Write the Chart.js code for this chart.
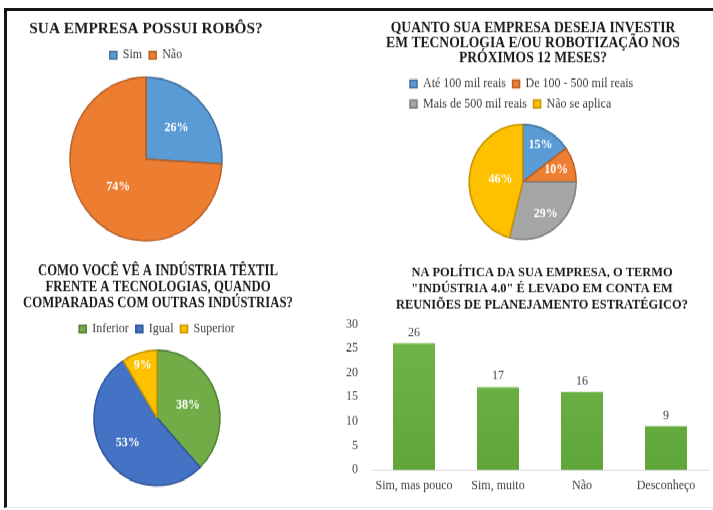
<!DOCTYPE html>
<html lang="pt-BR">
<head>
<meta charset="utf-8">
<title>Indústria têxtil: robôs e tecnologia</title>
<script src="https://cdn.jsdelivr.net/npm/chart.js@4.4.1/dist/chart.umd.min.js"></script>
<style>
  html, body { margin: 0; padding: 0; background: #fff; width: 713px; height: 510px; overflow: hidden; }
  #frame {
    position: absolute; left: 4px; top: 8px; width: 720px; height: 500px;
    box-sizing: border-box;
    border-left: 3px solid #151515; border-top: 3px solid #151515; border-bottom: 1px solid #e4e4e4;
  }
  /* the whole panel is drawn slightly taller than wide */
  #stage { position: absolute; left: 0; top: 0; width: 713px; height: 475px; transform: scaleY(1.075); transform-origin: 0 0; }
  #stage canvas { position: absolute; }
</style>
</head>
<body>
<div id="frame"></div>
<div id="stage">
  <canvas id="robos"      style="left:10px;  top:10px;"  width="272" height="219"></canvas>
  <canvas id="investir"   style="left:376px; top:10px;"  width="310" height="216"></canvas>
  <canvas id="textil"     style="left:10px;  top:240px;" width="294" height="216"></canvas>
  <canvas id="industria"  style="left:320px; top:240px;" width="393" height="232"></canvas>
</div>
<script>
// ---- data ----
const robosLabels = ['Sim', 'Não'];
const robosValues = [26, 74];

const investLabels = ['Até 100 mil reais', 'De 100 - 500 mil reais', 'Mais de 500 mil reais', 'Não se aplica'];
const investValues = [15, 10, 29, 46];

const textilLabels = ['Inferior', 'Igual', 'Superior'];
const textilValues = [38, 53, 9];

const industriaLabels = ['Sim, mas pouco', 'Sim, muito', 'Não', 'Desconheço'];
const industriaValues = [26, 17, 16, 9];
const industriaTicks = [0, 5, 10, 15, 20, 25, 30];

const robosTitle = ['SUA EMPRESA POSSUI ROBÔS?'];
const investTitle = ['QUANTO SUA EMPRESA DESEJA INVESTIR', 'EM TECNOLOGIA E/OU ROBOTIZAÇÃO NOS', 'PRÓXIMOS 12 MESES?'];
const textilTitle = ['COMO VOCÊ VÊ A INDÚSTRIA TÊXTIL', 'FRENTE A TECNOLOGIAS, QUANDO', 'COMPARADAS COM OUTRAS INDÚSTRIAS?'];
const industriaTitle = ['NA POLÍTICA DA SUA EMPRESA, O TERMO', '"INDÚSTRIA 4.0" É LEVADO EM CONTA EM', 'REUNIÕES DE PLANEJAMENTO ESTRATÉGICO?'];

// ---- shared styling ----
const FONT = '"Liberation Serif", "Times New Roman", serif';
Chart.defaults.font.family = FONT;
Chart.defaults.font.size = 12;
Chart.defaults.color = '#404040';
Chart.defaults.animation = false;
Chart.defaults.events = [];
Chart.defaults.plugins.tooltip.enabled = false;

// multi-line bold heading centred at x, one centre line per row;
// sx narrows the lettering horizontally
function heading(lines, x, ys, size, sx) {
  return {
    id: 'heading',
    afterDraw(chart) {
      const ctx = chart.ctx;
      ctx.save();
      ctx.translate(x, 0);
      ctx.scale(sx, 1);
      ctx.font = `bold ${size}px ${FONT}`;
      ctx.fillStyle = '#1b1b1b';
      ctx.textAlign = 'center';
      ctx.textBaseline = 'middle';
      lines.forEach((t, i) => ctx.fillText(t, 0, ys[i]));
      ctx.restore();
    }
  };
}

// percentage written inside each slice, at a fraction of the radius along the slice's middle
function sliceLabels(fractions) {
  return {
    id: 'sliceLabels',
    afterDatasetsDraw(chart) {
      const ctx = chart.ctx;
      const values = chart.data.datasets[0].data;
      ctx.save();
      ctx.font = `bold 12px ${FONT}`;
      ctx.fillStyle = '#ffffff';
      ctx.textAlign = 'center';
      ctx.textBaseline = 'middle';
      chart.getDatasetMeta(0).data.forEach((arc, i) => {
        const {x, y, startAngle, endAngle, outerRadius} = arc.getProps(['x', 'y', 'startAngle', 'endAngle', 'outerRadius']);
        const mid = (startAngle + endAngle) / 2;
        const r = outerRadius * fractions[i];
        ctx.fillText(values[i] + '%', x + Math.cos(mid) * r, y + Math.sin(mid) * r);
      });
      ctx.restore();
    }
  };
}

// value written above each bar
const barValues = {
  id: 'barValues',
  afterDatasetsDraw(chart) {
    const ctx = chart.ctx;
    const values = chart.data.datasets[0].data;
    ctx.save();
    ctx.font = `12px ${FONT}`;
    ctx.fillStyle = '#404040';
    ctx.textAlign = 'center';
    ctx.textBaseline = 'middle';
    chart.getDatasetMeta(0).data.forEach((bar, i) => {
      ctx.fillText(String(values[i]), bar.x, bar.y - 10);
    });
    ctx.restore();
  }
};

function legendOpts(align, pad) {
  return {
    position: 'top',
    align: align,
    labels: { boxWidth: 7, boxHeight: 7, padding: pad, color: '#404040', font: { size: 12 } }
  };
}

function pie(id, labels, values, fills, borders, radius, legend, padding, plugins) {
  return new Chart(document.getElementById(id), {
    type: 'pie',
    data: {
      labels: labels,
      datasets: [{ data: values, backgroundColor: fills, borderColor: borders, borderWidth: 1.5 }]
    },
    options: {
      responsive: false,
      radius: radius,
      layout: { padding: padding },
      plugins: { legend: legend, title: { display: false } }
    },
    plugins: plugins
  });
}

pie('robos', robosLabels, robosValues,
    ['#5B9BD5', '#ED7D31'], ['#41719C', '#B85F22'], 76,
    legendOpts('center', 7), { top: 28.2, bottom: 0.2 },
    [sliceLabels([0.55, 0.5]), heading(robosTitle, 136, [17.5], 15.3, 1)]);

pie('investir', investLabels, investValues,
    ['#5B9BD5', '#ED7D31', '#A5A5A5', '#FFC000'], ['#41719C', '#B85F22', '#7F7F7F', '#C49500'], 53.5,
    legendOpts('start', 6.6), { top: 55.5, bottom: 0.1, left: 27.4, right: 44 },
    [sliceLabels([0.73, 0.66, 0.70, 0.42]), heading(investTitle, 157, [16.6, 30.6, 44.5], 13.6, 1)]);

pie('textil', textilLabels, textilValues,
    ['#70AD47', '#4472C4', '#FFC000'], ['#527F34', '#2F5597', '#C49500'], 63,
    legendOpts('center', 7), { top: 53, bottom: 0.4 },
    [sliceLabels([0.53, 0.59, 0.81]), heading(textilTitle, 148, [12.7, 27.5, 42.4], 14, 0.91)]);

new Chart(document.getElementById('industria'), {
  type: 'bar',
  data: {
    labels: industriaLabels,
    datasets: [{
      data: industriaValues,
      backgroundColor(c) {
        const area = c.chart.chartArea;
        if (!area) return '#6BAF45';
        const g = c.chart.ctx.createLinearGradient(0, area.top, 0, area.bottom);
        g.addColorStop(0, '#72B648');
        g.addColorStop(1, '#5FA63A');
        return g;
      },
      borderWidth: 0,
      categoryPercentage: 1,
      barPercentage: 0.5
    }]
  },
  options: {
    responsive: false,
    layout: { padding: { top: 61.4, left: 12, right: 5, bottom: 4.8 } },
    plugins: { legend: { display: false }, title: { display: false } },
    scales: {
      x: {
        grid: { display: false, drawTicks: false },
        border: { display: true, color: '#D9D9D9', width: 1 },
        ticks: { padding: 7, color: '#404040', font: { size: 12 } },
        afterFit(scale) { scale.height = 30; }
      },
      y: {
        min: industriaTicks[0],
        max: industriaTicks[industriaTicks.length - 1],
        grid: { display: false, drawTicks: false },
        border: { display: false },
        afterBuildTicks(scale) { scale.ticks = industriaTicks.map(v => ({ value: v })); },
        ticks: { padding: 14, color: '#404040', font: { size: 12 } },
        afterFit(scale) { scale.width = 40; }
      }
    }
  },
  plugins: [barValues, heading(industriaTitle, 222, [13.6, 28.5, 43.4], 13.5, 0.92)]
});
</script>
</body>
</html>
